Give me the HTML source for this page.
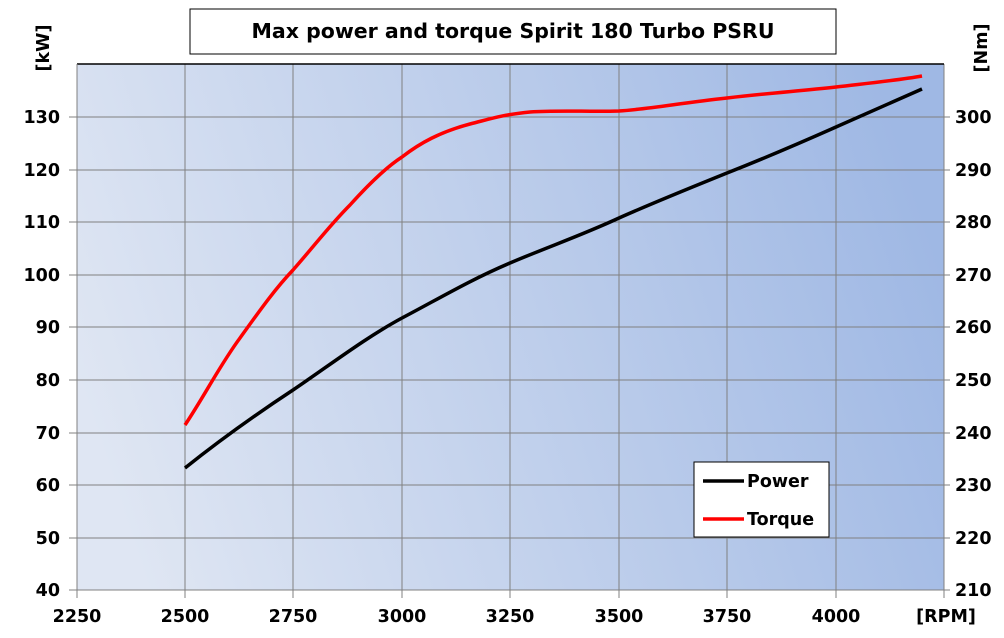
<!DOCTYPE html>
<html><head><meta charset="utf-8"><style>
body{margin:0;background:#fff;}
svg{display:block;font-family:"DejaVu Sans","Liberation Sans",sans-serif;font-weight:bold;}
</style></head><body>
<svg width="1004" height="638" viewBox="0 0 1004 638" xmlns="http://www.w3.org/2000/svg">
<defs>
<linearGradient id="bg" x1="0" y1="0.6" x2="1" y2="0.4">
<stop offset="0" stop-color="#dfe6f3"/>
<stop offset="1" stop-color="#9fb8e4"/>
</linearGradient>
</defs>
<rect x="77" y="64" width="867" height="526" fill="url(#bg)"/>
<g stroke="#808080" stroke-width="1">
<line x1="185" y1="64" x2="185" y2="598"/>
<line x1="293" y1="64" x2="293" y2="598"/>
<line x1="402" y1="64" x2="402" y2="598"/>
<line x1="510" y1="64" x2="510" y2="598"/>
<line x1="619" y1="64" x2="619" y2="598"/>
<line x1="727" y1="64" x2="727" y2="598"/>
<line x1="836" y1="64" x2="836" y2="598"/>
<line x1="944" y1="64" x2="944" y2="598"/>
<line x1="77" y1="590" x2="77" y2="598"/>
<line x1="69" y1="117" x2="950" y2="117"/>
<line x1="69" y1="170" x2="950" y2="170"/>
<line x1="69" y1="222" x2="950" y2="222"/>
<line x1="69" y1="275" x2="950" y2="275"/>
<line x1="69" y1="327" x2="950" y2="327"/>
<line x1="69" y1="380" x2="950" y2="380"/>
<line x1="69" y1="433" x2="950" y2="433"/>
<line x1="69" y1="485" x2="950" y2="485"/>
<line x1="69" y1="538" x2="950" y2="538"/>
<line x1="69" y1="590" x2="950" y2="590"/>
</g>
<line x1="77" y1="64" x2="944" y2="64" stroke="#000" stroke-width="1.5"/>
<line x1="77" y1="64" x2="77" y2="590" stroke="#808080" stroke-width="1"/>
<g font-size="17.5" text-anchor="end" fill="#000">
<text x="60" y="123">130</text><text x="60" y="176">120</text><text x="60" y="228">110</text>
<text x="60" y="281">100</text><text x="60" y="333">90</text><text x="60" y="386">80</text>
<text x="60" y="439">70</text><text x="60" y="491">60</text><text x="60" y="544">50</text><text x="60" y="596">40</text>
</g>
<g font-size="17.5" text-anchor="start" fill="#000">
<text x="955" y="123">300</text><text x="955" y="176">290</text><text x="955" y="228">280</text>
<text x="955" y="281">270</text><text x="955" y="333">260</text><text x="955" y="386">250</text>
<text x="955" y="439">240</text><text x="955" y="491">230</text><text x="955" y="544">220</text><text x="955" y="596">210</text>
</g>
<g font-size="17.5" text-anchor="middle" fill="#000">
<text x="77" y="622">2250</text><text x="185" y="622">2500</text><text x="293" y="622">2750</text>
<text x="402" y="622">3000</text><text x="510" y="622">3250</text><text x="619" y="622">3500</text>
<text x="727" y="622">3750</text><text x="836" y="622">4000</text><text x="946" y="622">[RPM]</text>
</g>
<text font-size="17.5" transform="translate(49,48) rotate(-90)" text-anchor="middle">[kW]</text>
<text font-size="17.5" transform="translate(987,48) rotate(-90)" text-anchor="middle">[Nm]</text>
<rect x="190" y="9" width="646" height="45" fill="#fff" stroke="#000" stroke-width="1"/>
<text x="513" y="38" font-size="20.5" text-anchor="middle">Max power and torque Spirit 180 Turbo PSRU</text>
<path d="M185,468 C220,440 255,415 293,390 C330,365 365,338 402,318 C440,298 470,280 510,263 C550,246 580,236 619,218 C655,202 690,188 727,173 C765,158 800,143 836,127 C866,114 895,101 922,89" fill="none" stroke="#000" stroke-width="3.5"/>
<path d="M185,425 C205,395 220,365 240,338 C258,313 274,290 293,270 C315,245 330,225 350,205 C368,185 385,168 402,157 C420,143 440,132 470,124 C490,119 500,115 530,112 C560,110 590,112 619,111 C650,109 680,103 727,98 C770,93 800,91 836,87 C870,83 900,80 922,76" fill="none" stroke="#ff0000" stroke-width="3.5"/>
<rect x="694" y="462" width="135" height="75" fill="#fff" stroke="#000" stroke-width="1"/>
<line x1="703" y1="481" x2="744" y2="481" stroke="#000" stroke-width="3.5"/>
<line x1="703" y1="519" x2="744" y2="519" stroke="#ff0000" stroke-width="3.5"/>
<text x="747" y="487" font-size="17.5">Power</text>
<text x="747" y="525" font-size="17.5">Torque</text>
</svg>
</body></html>
